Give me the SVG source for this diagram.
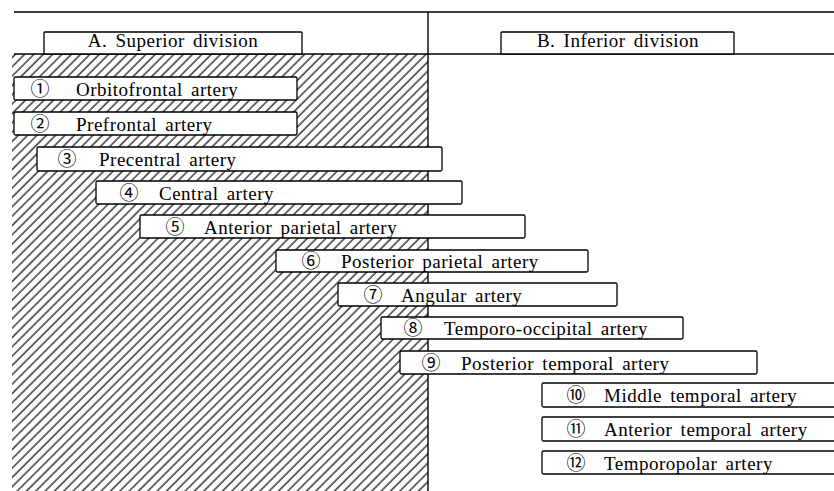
<svg xmlns="http://www.w3.org/2000/svg" width="834" height="491" viewBox="0 0 834 491">
<defs>
<pattern id="hatch" patternUnits="userSpaceOnUse" width="6.6" height="10" patternTransform="rotate(45)">
<line x1="3" y1="-1" x2="3" y2="11" stroke="#000" stroke-width="1.15"/>
</pattern>
</defs>
<style>
.box{fill:#fff;stroke:#000;stroke-width:1.3}
.rule{stroke:#000;stroke-width:1.4;fill:none}
.t{font-family:"Liberation Serif","Times New Roman",serif;font-size:19px;letter-spacing:0.5px;word-spacing:3px;fill:#000}
.n{font-family:"Noto Sans CJK JP","DejaVu Sans",sans-serif;font-size:19px;fill:#000;text-anchor:middle}
.h{text-anchor:middle}
</style>
<rect id="hatched-area" x="12" y="54" width="416" height="437" fill="url(#hatch)"/>
<g id="connectors">
<line class="rule" x1="14" y1="12" x2="834" y2="12"/>
<line class="rule" x1="14" y1="54" x2="834" y2="54"/>
<line class="rule" x1="428" y1="12" x2="428" y2="491"/>
</g>
<g id="header-a"><rect class="box" x="44" y="32" width="258" height="22" rx="1"/><text class="t h" x="173" y="47">A. Superior division</text></g>
<g id="header-b"><rect class="box" x="501" y="32" width="233" height="22" rx="1"/><text class="t h" x="618" y="47">B. Inferior division</text></g>
<g id="a1"><rect class="box" x="14" y="77" width="283" height="23" rx="1.5"/><text class="n" x="40" y="96">①</text><text class="t" x="76" y="96">Orbitofrontal artery</text></g>
<g id="a2"><rect class="box" x="14" y="112" width="283" height="23" rx="1.5"/><text class="n" x="40" y="131">②</text><text class="t" x="76" y="131">Prefrontal artery</text></g>
<g id="a3"><rect class="box" x="37" y="147" width="405" height="24" rx="1.5"/><text class="n" x="67" y="166">③</text><text class="t" x="99" y="166">Precentral artery</text></g>
<g id="a4"><rect class="box" x="96" y="181" width="366" height="23" rx="1.5"/><text class="n" x="129" y="200">④</text><text class="t" x="159" y="200">Central artery</text></g>
<g id="a5"><rect class="box" x="140" y="215" width="385" height="23" rx="1.5"/><text class="n" x="175" y="234">⑤</text><text class="t" x="204" y="234">Anterior parietal artery</text></g>
<g id="a6"><rect class="box" x="276" y="250" width="312" height="22" rx="1.5"/><text class="n" x="311" y="268">⑥</text><text class="t" x="341" y="268">Posterior parietal artery</text></g>
<g id="a7"><rect class="box" x="338" y="283" width="279" height="23" rx="1.5"/><text class="n" x="373" y="302">⑦</text><text class="t" x="401" y="302">Angular artery</text></g>
<g id="a8"><rect class="box" x="381" y="317" width="302" height="22" rx="1.5"/><text class="n" x="413" y="335">⑧</text><text class="t" x="444" y="335">Temporo-occipital artery</text></g>
<g id="a9"><rect class="box" x="400" y="351" width="357" height="23" rx="1.5"/><text class="n" x="431" y="370">⑨</text><text class="t" x="461" y="370">Posterior temporal artery</text></g>
<g id="a10"><rect class="box" x="542" y="383" width="300" height="24" rx="1.5"/><text class="n" x="576" y="402">⑩</text><text class="t" x="604" y="402">Middle temporal artery</text></g>
<g id="a11"><rect class="box" x="542" y="417" width="300" height="24" rx="1.5"/><text class="n" x="576" y="436">⑪</text><text class="t" x="604" y="436">Anterior temporal artery</text></g>
<g id="a12"><rect class="box" x="542" y="451" width="300" height="23" rx="1.5"/><text class="n" x="576" y="470">⑫</text><text class="t" x="604" y="470">Temporopolar artery</text></g>
</svg>
